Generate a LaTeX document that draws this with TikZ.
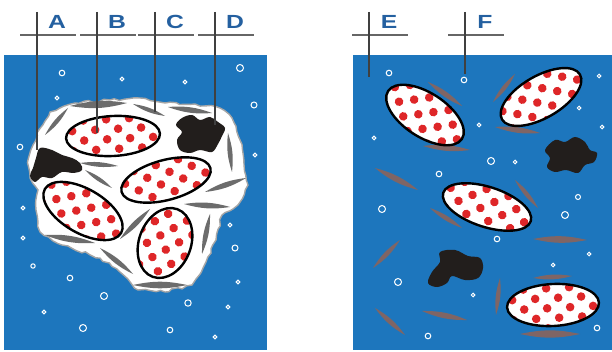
\documentclass[tikz,border=0pt]{standalone}
\usepackage{fontspec}
\setsansfont{Liberation Sans}
\usetikzlibrary{decorations.pathmorphing}

\definecolor{water}{RGB}{29,118,189}
\definecolor{dotred}{RGB}{222,38,40}
\definecolor{tagblue}{RGB}{36,96,160}
\definecolor{fibergray}{RGB}{108,108,108}
\definecolor{fiberbrown}{RGB}{138,100,92}
\definecolor{blobdark}{RGB}{34,30,28}

% spotted cell: centre x, centre y, angle, x radius, y radius
\newcommand\cell[5]{%
  \begin{scope}[shift={(#1,#2)}, rotate=#3]
    \fill[white] (0,0) ellipse [x radius=#4, y radius=#5];
    \begin{scope}
      \clip (0,0) ellipse [x radius=#4, y radius=#5];
      \foreach \row in {0,...,8}
        \foreach \col in {0,...,6}
          \fill[dotred] ({(\col-3)*23+11.5*mod(\row,2)-6}, {(\row-4)*10+3}) circle (4.3);
    \end{scope}
    \draw[line width=2.4] (0,0) ellipse [x radius=#4, y radius=#5];
  \end{scope}}

\begin{document}
\begin{tikzpicture}[x=1pt, y=-1pt,
  panel/.style={fill=water},
  crumb/.style={fill=white, draw=gray!70, line width=1.4,
    decorate, decoration={random steps, segment length=5, amplitude=1.3}},
  fiber/.style={fill=fibergray},
  rodlet/.style={fill=fiberbrown, opacity=0.9},
  blob/.style={fill=blobdark},
  bubble/.style={draw=white, line width=1},
  tag/.style={font=\sffamily\bfseries\fontsize{19}{19}\selectfont,
    text=tagblue, inner sep=0pt, xscale=1.3},
  pointer/.style={draw=black!75, line width=1.5},
  bar/.style={draw=black!60, line width=2}
]
\useasboundingbox (0,0) rectangle (612,352);

% the two panels
\fill[panel] (4,55) rectangle (267,350);
\fill[panel] (353,55) rectangle (612,350);

% left: lump of food with fibres
\path[crumb] (37,133) -- (50,112) -- (75,103) -- (110,100) -- (140,98)
  -- (165,103) -- (195,104) -- (220,108) -- (232,118) -- (240,140)
  -- (244,165) -- (248,185) -- (238,205) -- (222,215) -- (216,240)
  -- (206,262) -- (192,285) -- (165,292) -- (138,290) -- (120,272)
  -- (100,258) -- (62,245) -- (40,232) -- (36,210) -- (38,190)
  -- (30,178) -- (28,160) -- (33,145) -- cycle;

\foreach \xa/\ya/\xb/\yb in {45/135/68/108, 70/106/127/103, 133/104/165/116,
    168/107/212/113, 228/133/232/172, 205/192/246/178, 184/204/230/207,
    85/170/112/188, 80/163/118/166, 210/214/202/254, 45/235/95/243,
    100/248/133/274, 133/285/187/285, 120/239/150/209}
  \fill[fiber] (\xa,\ya) to[bend left=12] (\xb,\yb) to[bend left=12] cycle;

\cell{113}{136}{3}{47}{20}
\cell{166}{180}{15}{46}{20}
\cell{83}{211}{-30}{44}{22}
\cell{165}{243}{70}{36}{26}

\fill[blob] plot[smooth cycle, tension=0.6] coordinates {(40,148) (52,150)
  (62,155) (72,158) (80,163) (82,170) (74,173) (62,172) (52,178) (42,177)
  (35,182) (30,176) (33,168) (36,158)};
\fill[blob] plot[smooth cycle, tension=0.6] coordinates {(182,118) (192,115)
  (200,120) (210,117) (218,122) (225,128) (222,136) (218,144) (212,152)
  (200,150) (190,153) (180,150) (177,140) (182,132) (176,125)};

\foreach \bx/\by/\br in {62/73/2.8, 122/79/1.8, 185/82/1.8, 240/68/3.5,
    57/98/1.8, 254/105/3, 20/147/2.8, 255/155/1.8, 23/208/1.8, 23/238/1.8,
    33/266/2.2, 70/278/2.8, 104/296/3.5, 44/312/1.8, 83/328/3.5,
    170/330/2.8, 188/303/3.2, 228/307/1.8, 215/337/1.8, 230/225/1.8,
    235/248/3, 238/282/1.8}
  \draw[bubble] (\bx,\by) circle (\br);

% right: the same parts spread out
\foreach \xa/\ya/\xb/\yb in {428/82/462/106, 423/146/470/150, 375/168/418/190,
    493/102/515/74, 495/127/540/133, 515/180/538/208, 430/208/462/228,
    373/268/400/240, 375/308/405/335, 422/311/467/320, 533/239/587/240,
    533/278/572/276, 500/278/496/315, 520/334/580/334}
  \fill[rodlet] (\xa,\ya) to[bend left=12] (\xb,\yb) to[bend left=12] cycle;

\cell{425}{115}{-33}{44}{22}
\cell{541}{97}{30}{45}{21}
\cell{487}{207}{-18}{46}{20}
\cell{553}{305}{3}{46}{21}

\fill[blob] plot[smooth cycle, tension=0.6] coordinates {(555,140) (565,142)
  (575,137) (585,142) (590,150) (597,153) (594,162) (585,165) (578,173)
  (566,170) (555,172) (547,167) (550,158) (545,150)};
\fill[blob] plot[smooth cycle, tension=0.6] coordinates {(440,252) (455,250)
  (468,256) (480,258) (483,268) (478,278) (465,280) (452,276) (447,283)
  (437,287) (428,283) (432,272) (440,262)};

\foreach \bx/\by/\br in {389/73/2.8, 464/80/2.8, 599/76/1.8, 374/138/1.8,
    479/125/1.8, 579/108/1.8, 602/127/1.8, 491/161/3.5, 515/162/1.8,
    439/174/2.8, 382/209/3.5, 578/197/2.5, 565/215/3.5, 497/239/2.8,
    589/254/1.8, 553/265/1.8, 398/282/3.5, 473/295/1.8, 428/336/2.8,
    597/328/2.8}
  \draw[bubble] (\bx,\by) circle (\br);

% lettered pointers
\foreach \name/\lx/\ly in {A/37/150, B/97/133, C/155/112, D/215/125,
    E/369/77, F/465/74} {
  \coordinate (top-\name) at (\lx,12);
  \coordinate (tip-\name) at (\lx,\ly);
  \node[tag] (lbl-\name) at (\lx+20,22) {\name};
  \draw[bar] (\lx-17,35) -- (\lx+39,35);
  \draw[pointer] (top-\name) -- (tip-\name);
}
\end{tikzpicture}
\end{document}
